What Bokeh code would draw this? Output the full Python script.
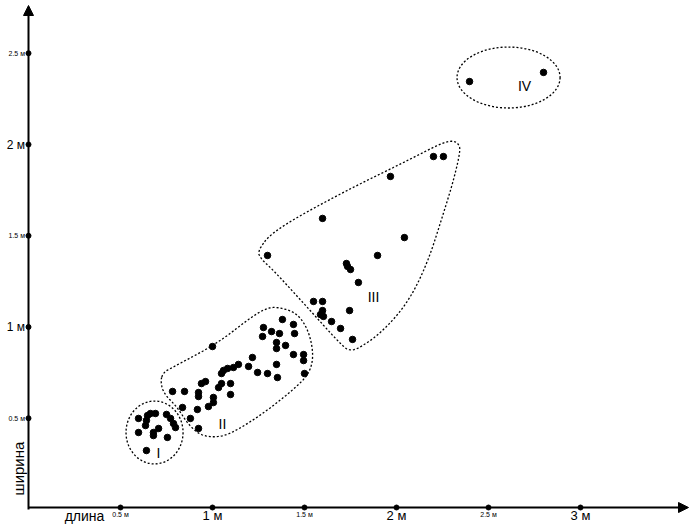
import numpy as np
from bokeh.plotting import figure
from bokeh.models import Arrow, NormalHead, Range1d
from bokeh.core.properties import value
from bokeh.embed import file_html
from bokeh.resources import INLINE

# ---------------- data ----------------
x_ticks = [0.5, 1.0, 1.5, 2.0, 2.5, 3.0]
x_tick_labels = ["0.5 м", "1 м", "1.5 м", "2 м", "2.5 м", "3 м"]
y_ticks = [0.5, 1.0, 1.5, 2.0, 2.5]
y_tick_labels = ["0.5 м", "1 м", "1.5 м", "2 м", "2.5 м"]
x_title = "длина"
y_title = "ширина"

# group I
g1_len = [0.598, 0.647, 0.641, 0.663, 0.690, 0.750, 0.772, 0.788, 0.799, 0.598,
          0.636, 0.679, 0.707, 0.679, 0.755, 0.641]
g1_wid = [0.499, 0.515, 0.488, 0.526, 0.526, 0.521, 0.499, 0.471, 0.449, 0.422,
          0.460, 0.422, 0.444, 0.405, 0.395, 0.323]
# group II
g2_len = [0.783, 0.848, 0.924, 0.924, 0.837, 0.918, 0.880, 0.924, 1.005, 1.005,
          0.978, 0.962, 0.940, 1.049, 1.033, 1.098, 1.098, 1.000, 1.049, 1.060,
          1.082, 1.114, 1.141, 1.196, 1.217, 1.245, 1.299, 1.348, 1.353, 1.272,
          1.277, 1.321, 1.364, 1.348, 1.348, 1.397, 1.380, 1.440, 1.446, 1.440,
          1.495, 1.495, 1.500]
g2_wid = [0.647, 0.647, 0.641, 0.619, 0.559, 0.548, 0.499, 0.444, 0.614, 0.586,
          0.564, 0.701, 0.690, 0.690, 0.668, 0.690, 0.630, 0.893, 0.745, 0.762,
          0.773, 0.778, 0.795, 0.784, 0.833, 0.751, 0.745, 0.795, 0.723, 0.948,
          0.997, 0.975, 0.964, 0.915, 0.882, 0.899, 1.041, 1.014, 0.964, 0.849,
          0.849, 0.816, 0.745]
# group III
g3_len = [2.201, 2.255, 1.967, 1.598, 2.043, 1.299, 1.897, 1.728, 1.734, 1.750,
          1.793, 1.549, 1.598, 1.598, 1.587, 1.603, 1.647, 1.745, 1.696, 1.761]
g3_wid = [1.934, 1.934, 1.825, 1.595, 1.490, 1.392, 1.392, 1.348, 1.332, 1.315,
          1.244, 1.140, 1.140, 1.090, 1.068, 1.058, 1.030, 1.090, 0.992, 0.932]
# group IV
g4_len = [2.397, 2.799]
g4_wid = [2.345, 2.395]

group_names = ["I", "II", "III", "IV"]
group_label_len = [0.706, 1.054, 1.875, 2.696]
group_label_wid = [0.307, 0.471, 1.162, 2.318]

# region outlines (data units)
region1_center = (0.685, 0.422)
region1_size = (0.310, 0.345)
region4_center = (2.609, 2.367)
region4_size = (0.560, 0.334)
region2_len = [0.717, 0.734, 0.772, 1.027, 1.207, 1.299, 1.370, 1.462, 1.522, 1.549,
               1.533, 1.478, 1.299, 1.114, 1.027, 0.935, 0.864, 0.810, 0.734]
region2_wid = [0.707, 0.751, 0.773, 0.910, 1.052, 1.107, 1.107, 1.074, 0.981, 0.855,
               0.762, 0.690, 0.542, 0.422, 0.395, 0.405, 0.471, 0.559, 0.636]
region3_len = [1.245, 1.332, 1.696, 2.060, 2.239, 2.304, 2.337, 2.348, 2.310, 2.255,
               2.168, 2.060, 1.913, 1.793, 1.750, 1.712, 1.516, 1.332, 1.261]
region3_wid = [1.419, 1.529, 1.732, 1.912, 2.005, 2.022, 2.005, 1.967, 1.803, 1.622,
               1.348, 1.129, 0.964, 0.882, 0.871, 0.888, 1.107, 1.310, 1.375]

# ---------------- layout ----------------
W, H = 690, 527
X0_PX, PX_PER_X = 28.0, 184.0     # canvas px of length 0, px per metre
Y0_PX, PX_PER_Y = 509.0, 182.5    # canvas px (from top) of width 0


def dx(px):
    return (px - X0_PX) / PX_PER_X


def dy(py):
    return (Y0_PX - py) / PX_PER_Y


def chaikin(xs, ys, n=2):
    pts = np.column_stack([xs, ys]).astype(float)
    for _ in range(n):
        nxt = np.roll(pts, -1, axis=0)
        q = 0.75 * pts + 0.25 * nxt
        r = 0.25 * pts + 0.75 * nxt
        pts = np.empty((2 * len(q), 2))
        pts[0::2] = q
        pts[1::2] = r
    pts = np.vstack([pts, pts[:1]])
    return pts[:, 0], pts[:, 1]


FONT = value("Liberation Sans")

p = figure(width=W, height=H, output_backend="svg", toolbar_location=None,
           x_range=Range1d(dx(0), dx(W)), y_range=Range1d(dy(H), dy(0)),
           x_axis_location=None, y_axis_location=None,
           min_border=0, min_border_left=0, min_border_right=0,
           min_border_top=0, min_border_bottom=0)
p.outline_line_color = None
p.grid.visible = False
p.background_fill_color = "white"
p.border_fill_color = "white"

# axes with arrows
head = dict(fill_color="black", line_color="black")
p.add_layout(Arrow(x_start=0, y_start=dy(509), x_end=0, y_end=dy(5),
                   line_width=2, line_color="black", end=NormalHead(size=10, **head)))
p.add_layout(Arrow(x_start=0, y_start=dy(507), x_end=dx(688), y_end=dy(507),
                   line_width=2, line_color="black", end=NormalHead(size=10, **head)))

# tick dots
p.scatter(x_ticks, [dy(507)] * len(x_ticks), size=5, color="black")
p.scatter([0] * len(y_ticks), y_ticks, size=5, color="black")

# tick labels
for t, lab in zip(x_ticks, x_tick_labels):
    major = float(t).is_integer()
    p.text([t], [dy(515) if major else dy(514)], text=[lab], text_font=FONT,
           text_font_size="13px" if major else "7px", text_align="center",
           text_baseline="alphabetic", text_color="black")
for t, lab in zip(y_ticks, y_tick_labels):
    major = float(t).is_integer()
    p.text([dx(24.5)], [t], text=[lab], text_font=FONT,
           text_font_size="12px" if major else "7px", text_align="right",
           text_baseline="middle", text_color="black")

# axis titles
p.text([dx(84)], [dy(515)], text=[x_title], text_font=FONT, text_font_size="14px",
       text_align="center", text_baseline="alphabetic", text_color="black")
p.text([dx(18)], [dy(468)], text=[y_title], text_font=FONT, text_font_size="15px",
       text_align="center", text_baseline="middle", angle=np.pi / 2,
       text_color="black")

# region outlines
outline = dict(line_color="black", line_width=1.3, line_dash="2 2")
p.ellipse(x=[region1_center[0]], y=[region1_center[1]],
          width=[region1_size[0]], height=[region1_size[1]],
          fill_color=None, **outline)
p.ellipse(x=[region4_center[0]], y=[region4_center[1]],
          width=[region4_size[0]], height=[region4_size[1]],
          fill_color=None, **outline)
for rx, ry in ((region2_len, region2_wid), (region3_len, region3_wid)):
    sx, sy = chaikin(rx, ry, 3)
    p.line(sx, sy, **outline)

# points
for gl, gw in ((g1_len, g1_wid), (g2_len, g2_wid), (g3_len, g3_wid), (g4_len, g4_wid)):
    p.scatter(gl, gw, size=6.5, color="black")

# group labels
p.text(group_label_len, group_label_wid, text=group_names, text_font=FONT,
       text_font_size="14px", text_align="center", text_baseline="middle",
       text_color="black")

open("out.html", "w").write(file_html(p, INLINE))
